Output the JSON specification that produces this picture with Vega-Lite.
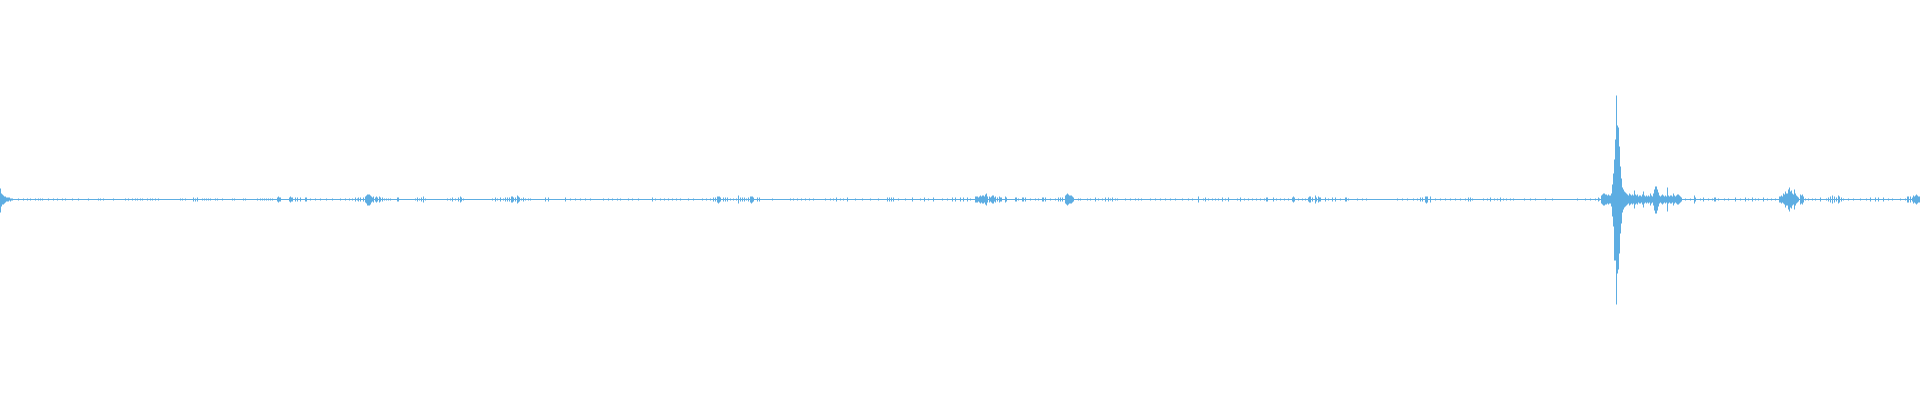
{
  "$schema": "https://vega.github.io/schema/vega-lite/v6.json",
  "width": 1920,
  "height": 400,
  "autosize": {"type": "fit", "contains": "padding"},
  "padding": 0,
  "background": "#ffffff",
  "config": {"view": {"stroke": null}},
  "datasets": {
    "base": [{"x": 0, "x2": 1919, "y": 0}],
    "wave": [
      {"x":0,"lo":-13,"hi":11},{"x":1,"lo":-7,"hi":6},{"x":2,"lo":-5,"hi":5},{"x":3,"lo":-5,"hi":4},{"x":4,"lo":-4,"hi":3},{"x":5,"lo":-3,"hi":3},{"x":6,"lo":-2,"hi":2},{"x":7,"lo":-2,"hi":2},{"x":8,"lo":-2,"hi":2},{"x":9,"lo":-1,"hi":2},{"x":10,"lo":-2,"hi":1},{"x":11,"lo":-1,"hi":1},{"x":12,"lo":-1,"hi":1},
      {"x":18,"lo":-1,"hi":1},{"x":23,"lo":-1,"hi":1},{"x":27,"lo":-1,"hi":1},{"x":30,"lo":-1,"hi":1},{"x":35,"lo":-1,"hi":1},{"x":38,"lo":-1,"hi":1},{"x":40,"lo":-1,"hi":1},{"x":42,"lo":-1,"hi":1},{"x":48,"lo":-1,"hi":1},{"x":53,"lo":-1,"hi":1},{"x":57,"lo":-1,"hi":1},{"x":62,"lo":-1,"hi":1},{"x":65,"lo":-1,"hi":1},{"x":72,"lo":-1,"hi":1},{"x":78,"lo":-1,"hi":1},{"x":88,"lo":-1,"hi":1},{"x":98,"lo":-1,"hi":1},{"x":100,"lo":-1,"hi":1},{"x":103,"lo":-1,"hi":1},{"x":113,"lo":-1,"hi":1},{"x":125,"lo":-1,"hi":1},{"x":128,"lo":-1,"hi":1},{"x":132,"lo":-1,"hi":1},{"x":135,"lo":-1,"hi":1},{"x":137,"lo":-1,"hi":1},{"x":140,"lo":-1,"hi":1},{"x":142,"lo":-1,"hi":1},{"x":147,"lo":-1,"hi":1},{"x":150,"lo":-1,"hi":1},{"x":152,"lo":-1,"hi":1},{"x":155,"lo":-1,"hi":1},{"x":158,"lo":-1,"hi":1},{"x":180,"lo":-1,"hi":1},{"x":182,"lo":-1,"hi":1},{"x":185,"lo":-1,"hi":1},{"x":193,"lo":-2,"hi":2},{"x":195,"lo":-2,"hi":1},{"x":197,"lo":-2,"hi":2},
      {"x":202,"lo":-1,"hi":1},{"x":204,"lo":-1,"hi":1},{"x":206,"lo":-1,"hi":1},{"x":208,"lo":-1,"hi":1},{"x":210,"lo":-1,"hi":1},{"x":215,"lo":-1,"hi":1},{"x":217,"lo":-1,"hi":1},{"x":222,"lo":-1,"hi":1},{"x":232,"lo":-1,"hi":1},{"x":234,"lo":-1,"hi":1},{"x":243,"lo":-1,"hi":1},{"x":245,"lo":-1,"hi":1},{"x":257,"lo":-1,"hi":1},{"x":260,"lo":-1,"hi":1},{"x":262,"lo":-1,"hi":1},{"x":264,"lo":-1,"hi":1},{"x":266,"lo":-1,"hi":1},{"x":268,"lo":-1,"hi":1},{"x":270,"lo":-1,"hi":1},{"x":272,"lo":-1,"hi":1},
      {"x":277,"lo":-2,"hi":2},{"x":278,"lo":-3,"hi":3},{"x":279,"lo":-2,"hi":2},{"x":280,"lo":-2,"hi":2},{"x":289,"lo":-2,"hi":2},{"x":290,"lo":-3,"hi":3},{"x":291,"lo":-2,"hi":2},{"x":292,"lo":-2,"hi":2},{"x":295,"lo":-2,"hi":2},{"x":297,"lo":-2,"hi":2},{"x":300,"lo":-2,"hi":2},{"x":305,"lo":-2,"hi":2},{"x":306,"lo":-2,"hi":2},{"x":310,"lo":-1,"hi":1},{"x":315,"lo":-1,"hi":1},{"x":320,"lo":-1,"hi":1},{"x":326,"lo":-1,"hi":1},{"x":332,"lo":-1,"hi":1},{"x":340,"lo":-1,"hi":1},{"x":345,"lo":-1,"hi":1},{"x":349,"lo":-1,"hi":1},
      {"x":352,"lo":-1,"hi":1},{"x":355,"lo":-2,"hi":2},{"x":357,"lo":-1,"hi":1},{"x":358,"lo":-2,"hi":2},{"x":360,"lo":-2,"hi":2},{"x":363,"lo":-2,"hi":2},{"x":365,"lo":-3,"hi":3},{"x":366,"lo":-4,"hi":4},{"x":367,"lo":-6,"hi":5},{"x":368,"lo":-6,"hi":5},{"x":369,"lo":-6,"hi":5},{"x":370,"lo":-5,"hi":4},{"x":371,"lo":-3,"hi":3},{"x":372,"lo":-2,"hi":2},{"x":373,"lo":-3,"hi":3},{"x":375,"lo":-2,"hi":2},{"x":376,"lo":-3,"hi":3},{"x":377,"lo":-2,"hi":2},{"x":379,"lo":-3,"hi":3},{"x":380,"lo":-2,"hi":2},{"x":382,"lo":-2,"hi":2},{"x":384,"lo":-1,"hi":1},{"x":386,"lo":-1,"hi":1},{"x":388,"lo":-1,"hi":1},{"x":390,"lo":-1,"hi":1},{"x":397,"lo":-2,"hi":2},{"x":398,"lo":-2,"hi":2},
      {"x":415,"lo":-1,"hi":1},{"x":417,"lo":-2,"hi":2},{"x":419,"lo":-1,"hi":1},{"x":421,"lo":-2,"hi":2},{"x":423,"lo":-3,"hi":3},{"x":425,"lo":-1,"hi":1},{"x":447,"lo":-1,"hi":1},{"x":450,"lo":-1,"hi":1},{"x":452,"lo":-2,"hi":2},{"x":455,"lo":-1,"hi":1},{"x":458,"lo":-2,"hi":2},{"x":460,"lo":-3,"hi":3},{"x":461,"lo":-2,"hi":2},{"x":463,"lo":-1,"hi":1},{"x":492,"lo":-1,"hi":1},{"x":495,"lo":-2,"hi":2},{"x":497,"lo":-1,"hi":1},{"x":500,"lo":-2,"hi":2},{"x":503,"lo":-1,"hi":1},{"x":505,"lo":-2,"hi":2},{"x":507,"lo":-2,"hi":2},{"x":509,"lo":-2,"hi":2},{"x":511,"lo":-3,"hi":3},{"x":512,"lo":-3,"hi":3},{"x":513,"lo":-2,"hi":2},{"x":515,"lo":-2,"hi":2},{"x":517,"lo":-4,"hi":4},{"x":518,"lo":-3,"hi":3},{"x":519,"lo":-2,"hi":2},{"x":521,"lo":-1,"hi":1},{"x":523,"lo":-2,"hi":2},{"x":525,"lo":-1,"hi":1},{"x":528,"lo":-1,"hi":1},{"x":530,"lo":-1,"hi":1},{"x":545,"lo":-2,"hi":2},{"x":548,"lo":-2,"hi":2},{"x":565,"lo":-2,"hi":2},{"x":570,"lo":-1,"hi":1},{"x":575,"lo":-1,"hi":1},{"x":580,"lo":-1,"hi":1},{"x":585,"lo":-1,"hi":1},{"x":590,"lo":-1,"hi":1},
      {"x":603,"lo":-1,"hi":1},{"x":608,"lo":-1,"hi":1},{"x":612,"lo":-1,"hi":1},{"x":617,"lo":-1,"hi":1},{"x":620,"lo":-1,"hi":1},{"x":628,"lo":-1,"hi":1},{"x":632,"lo":-1,"hi":1},{"x":638,"lo":-1,"hi":1},{"x":652,"lo":-2,"hi":2},{"x":655,"lo":-1,"hi":1},{"x":660,"lo":-1,"hi":1},{"x":664,"lo":-1,"hi":1},{"x":668,"lo":-1,"hi":1},{"x":672,"lo":-1,"hi":1},{"x":676,"lo":-1,"hi":1},{"x":680,"lo":-1,"hi":1},{"x":688,"lo":-1,"hi":1},{"x":693,"lo":-1,"hi":1},{"x":702,"lo":-1,"hi":1},{"x":706,"lo":-1,"hi":1},{"x":710,"lo":-1,"hi":1},{"x":713,"lo":-2,"hi":2},{"x":715,"lo":-2,"hi":2},{"x":717,"lo":-3,"hi":3},{"x":718,"lo":-4,"hi":3},{"x":719,"lo":-3,"hi":3},{"x":720,"lo":-2,"hi":2},{"x":723,"lo":-2,"hi":2},{"x":725,"lo":-2,"hi":2},{"x":727,"lo":-2,"hi":2},{"x":730,"lo":-1,"hi":1},{"x":733,"lo":-1,"hi":1},{"x":736,"lo":-1,"hi":1},{"x":738,"lo":-4,"hi":4},{"x":740,"lo":-2,"hi":2},{"x":742,"lo":-2,"hi":2},{"x":744,"lo":-2,"hi":2},{"x":746,"lo":-1,"hi":1},{"x":748,"lo":-2,"hi":2},{"x":750,"lo":-3,"hi":3},{"x":751,"lo":-4,"hi":3},{"x":752,"lo":-3,"hi":3},{"x":753,"lo":-2,"hi":2},{"x":757,"lo":-2,"hi":2},{"x":759,"lo":-2,"hi":2},{"x":772,"lo":-1,"hi":1},{"x":790,"lo":-1,"hi":1},{"x":793,"lo":-1,"hi":1},{"x":797,"lo":-1,"hi":1},{"x":801,"lo":-1,"hi":1},{"x":805,"lo":-1,"hi":1},{"x":809,"lo":-1,"hi":1},{"x":813,"lo":-1,"hi":1},{"x":825,"lo":-1,"hi":1},{"x":830,"lo":-1,"hi":1},{"x":833,"lo":-1,"hi":1},{"x":836,"lo":-2,"hi":2},{"x":840,"lo":-1,"hi":1},{"x":843,"lo":-1,"hi":1},{"x":847,"lo":-2,"hi":2},{"x":855,"lo":-1,"hi":1},{"x":862,"lo":-1,"hi":1},{"x":870,"lo":-1,"hi":1},{"x":878,"lo":-1,"hi":1},{"x":887,"lo":-2,"hi":2},{"x":889,"lo":-2,"hi":2},{"x":891,"lo":-2,"hi":2},{"x":893,"lo":-2,"hi":2},{"x":898,"lo":-1,"hi":1},{"x":905,"lo":-1,"hi":1},{"x":912,"lo":-2,"hi":2},{"x":920,"lo":-1,"hi":1},{"x":924,"lo":-2,"hi":2},{"x":928,"lo":-1,"hi":1},{"x":933,"lo":-2,"hi":2},
      {"x":942,"lo":-1,"hi":1},{"x":947,"lo":-1,"hi":1},{"x":952,"lo":-2,"hi":2},{"x":955,"lo":-2,"hi":2},{"x":960,"lo":-2,"hi":2},{"x":963,"lo":-2,"hi":2},{"x":967,"lo":-2,"hi":2},{"x":970,"lo":-1,"hi":1},{"x":975,"lo":-3,"hi":3},{"x":976,"lo":-3,"hi":3},{"x":977,"lo":-3,"hi":3},{"x":978,"lo":-2,"hi":2},{"x":979,"lo":-3,"hi":3},{"x":980,"lo":-4,"hi":4},{"x":981,"lo":-3,"hi":3},{"x":982,"lo":-4,"hi":4},{"x":983,"lo":-4,"hi":4},{"x":984,"lo":-3,"hi":3},{"x":985,"lo":-5,"hi":5},{"x":986,"lo":-6,"hi":6},{"x":987,"lo":-3,"hi":3},{"x":989,"lo":-3,"hi":3},{"x":990,"lo":-2,"hi":2},{"x":991,"lo":-3,"hi":3},{"x":992,"lo":-4,"hi":4},{"x":993,"lo":-4,"hi":4},{"x":994,"lo":-2,"hi":2},{"x":995,"lo":-3,"hi":3},{"x":997,"lo":-2,"hi":2},{"x":999,"lo":-3,"hi":3},{"x":1000,"lo":-2,"hi":2},{"x":1001,"lo":-2,"hi":2},{"x":1005,"lo":-3,"hi":3},{"x":1006,"lo":-2,"hi":2},{"x":1015,"lo":-2,"hi":2},{"x":1016,"lo":-2,"hi":2},{"x":1018,"lo":-1,"hi":1},{"x":1022,"lo":-2,"hi":2},{"x":1023,"lo":-2,"hi":2},{"x":1025,"lo":-2,"hi":2},{"x":1030,"lo":-1,"hi":1},{"x":1035,"lo":-1,"hi":1},{"x":1038,"lo":-1,"hi":1},{"x":1042,"lo":-2,"hi":2},{"x":1043,"lo":-2,"hi":2},{"x":1045,"lo":-2,"hi":2},{"x":1050,"lo":-1,"hi":1},{"x":1055,"lo":-1,"hi":1},{"x":1058,"lo":-2,"hi":2},{"x":1060,"lo":-2,"hi":2},{"x":1062,"lo":-2,"hi":2},{"x":1065,"lo":-4,"hi":4},{"x":1066,"lo":-5,"hi":5},{"x":1067,"lo":-6,"hi":6},{"x":1068,"lo":-5,"hi":5},{"x":1069,"lo":-4,"hi":4},{"x":1070,"lo":-4,"hi":4},{"x":1071,"lo":-4,"hi":4},{"x":1072,"lo":-3,"hi":3},{"x":1073,"lo":-2,"hi":2},{"x":1078,"lo":-1,"hi":1},{"x":1080,"lo":-1,"hi":1},{"x":1087,"lo":-1,"hi":1},{"x":1090,"lo":-1,"hi":1},{"x":1095,"lo":-2,"hi":2},{"x":1098,"lo":-1,"hi":1},{"x":1102,"lo":-1,"hi":1},{"x":1105,"lo":-2,"hi":2},{"x":1108,"lo":-2,"hi":2},{"x":1110,"lo":-1,"hi":1},{"x":1112,"lo":-2,"hi":2},{"x":1115,"lo":-1,"hi":1},{"x":1117,"lo":-1,"hi":1},{"x":1125,"lo":-1,"hi":1},{"x":1130,"lo":-1,"hi":1},{"x":1135,"lo":-1,"hi":1},{"x":1138,"lo":-1,"hi":1},
      {"x":1141,"lo":-1,"hi":1},{"x":1150,"lo":-1,"hi":1},{"x":1155,"lo":-1,"hi":1},{"x":1160,"lo":-1,"hi":1},{"x":1165,"lo":-1,"hi":1},{"x":1170,"lo":-1,"hi":1},{"x":1175,"lo":-1,"hi":1},{"x":1182,"lo":-1,"hi":1},{"x":1188,"lo":-1,"hi":1},{"x":1192,"lo":-1,"hi":1},{"x":1198,"lo":-3,"hi":3},{"x":1203,"lo":-1,"hi":1},{"x":1205,"lo":-2,"hi":2},{"x":1208,"lo":-1,"hi":1},{"x":1212,"lo":-1,"hi":1},{"x":1215,"lo":-1,"hi":1},{"x":1218,"lo":-1,"hi":1},{"x":1222,"lo":-2,"hi":2},{"x":1225,"lo":-1,"hi":1},{"x":1228,"lo":-2,"hi":2},{"x":1237,"lo":-1,"hi":1},{"x":1240,"lo":-2,"hi":2},{"x":1244,"lo":-1,"hi":1},{"x":1248,"lo":-1,"hi":1},{"x":1252,"lo":-1,"hi":1},{"x":1256,"lo":-1,"hi":1},{"x":1260,"lo":-1,"hi":1},{"x":1264,"lo":-1,"hi":1},{"x":1266,"lo":-2,"hi":2},{"x":1267,"lo":-2,"hi":2},{"x":1273,"lo":-2,"hi":2},{"x":1276,"lo":-1,"hi":1},{"x":1280,"lo":-1,"hi":1},{"x":1284,"lo":-1,"hi":1},{"x":1288,"lo":-1,"hi":1},{"x":1292,"lo":-2,"hi":2},{"x":1293,"lo":-3,"hi":3},{"x":1294,"lo":-2,"hi":2},{"x":1298,"lo":-1,"hi":1},{"x":1302,"lo":-1,"hi":1},{"x":1305,"lo":-1,"hi":1},{"x":1308,"lo":-2,"hi":2},{"x":1309,"lo":-3,"hi":3},{"x":1310,"lo":-3,"hi":3},{"x":1312,"lo":-2,"hi":2},{"x":1315,"lo":-4,"hi":4},{"x":1316,"lo":-2,"hi":2},{"x":1318,"lo":-3,"hi":3},{"x":1319,"lo":-2,"hi":2},{"x":1320,"lo":-2,"hi":2},{"x":1325,"lo":-2,"hi":2},{"x":1328,"lo":-1,"hi":1},{"x":1332,"lo":-2,"hi":2},{"x":1335,"lo":-2,"hi":2},{"x":1340,"lo":-1,"hi":1},{"x":1345,"lo":-2,"hi":2},{"x":1346,"lo":-2,"hi":2},{"x":1348,"lo":-1,"hi":1},{"x":1357,"lo":-1,"hi":1},{"x":1362,"lo":-1,"hi":1},{"x":1366,"lo":-1,"hi":1},{"x":1397,"lo":-1,"hi":1},{"x":1402,"lo":-1,"hi":1},{"x":1407,"lo":-1,"hi":1},{"x":1413,"lo":-1,"hi":1},{"x":1417,"lo":-1,"hi":1},{"x":1420,"lo":-2,"hi":2},{"x":1422,"lo":-2,"hi":2},{"x":1425,"lo":-3,"hi":3},{"x":1426,"lo":-4,"hi":3},{"x":1427,"lo":-3,"hi":3},{"x":1430,"lo":-3,"hi":3},{"x":1435,"lo":-1,"hi":1},{"x":1440,"lo":-1,"hi":1},{"x":1445,"lo":-1,"hi":1},{"x":1450,"lo":-1,"hi":1},{"x":1455,"lo":-1,"hi":1},{"x":1460,"lo":-1,"hi":1},{"x":1465,"lo":-1,"hi":1},{"x":1468,"lo":-2,"hi":2},{"x":1470,"lo":-2,"hi":2},{"x":1472,"lo":-1,"hi":1},{"x":1483,"lo":-1,"hi":1},{"x":1487,"lo":-1,"hi":1},{"x":1490,"lo":-2,"hi":2},{"x":1494,"lo":-1,"hi":1},{"x":1497,"lo":-1,"hi":1},{"x":1500,"lo":-2,"hi":2},{"x":1503,"lo":-1,"hi":1},{"x":1506,"lo":-1,"hi":1},{"x":1510,"lo":-1,"hi":1},{"x":1513,"lo":-1,"hi":1},{"x":1524,"lo":-1,"hi":1},{"x":1530,"lo":-1,"hi":1},{"x":1535,"lo":-1,"hi":1},{"x":1545,"lo":-1,"hi":1},{"x":1552,"lo":-1,"hi":1},
      {"x":1577,"lo":-1,"hi":1},{"x":1585,"lo":-1,"hi":1},{"x":1590,"lo":-1,"hi":1},{"x":1595,"lo":-1,"hi":1},{"x":1598,"lo":-2,"hi":2},{"x":1599,"lo":-1,"hi":1},{"x":1601,"lo":-4,"hi":4},{"x":1602,"lo":-5,"hi":5},{"x":1603,"lo":-6,"hi":6},{"x":1604,"lo":-6,"hi":6},{"x":1605,"lo":-5,"hi":5},{"x":1606,"lo":-5,"hi":5},{"x":1607,"lo":-4,"hi":4},{"x":1608,"lo":-5,"hi":5},{"x":1609,"lo":-4,"hi":4},{"x":1610,"lo":-4,"hi":4},{"x":1611,"lo":-7,"hi":6},{"x":1612,"lo":-17,"hi":15},{"x":1613,"lo":-27,"hi":26},{"x":1614,"lo":-61,"hi":40},{"x":1615,"lo":-61,"hi":60},{"x":1616,"lo":-105,"hi":104},{"x":1617,"lo":-74,"hi":74},{"x":1618,"lo":-70,"hi":72},{"x":1619,"lo":-54,"hi":53},{"x":1620,"lo":-34,"hi":33},{"x":1621,"lo":-24,"hi":21},{"x":1622,"lo":-13,"hi":12},{"x":1623,"lo":-10,"hi":10},{"x":1624,"lo":-8,"hi":8},{"x":1625,"lo":-7,"hi":7},{"x":1626,"lo":-6,"hi":6},{"x":1627,"lo":-5,"hi":5},{"x":1628,"lo":-4,"hi":4},{"x":1629,"lo":-6,"hi":6},{"x":1630,"lo":-5,"hi":5},{"x":1631,"lo":-4,"hi":4},{"x":1632,"lo":-5,"hi":5},{"x":1633,"lo":-4,"hi":4},{"x":1634,"lo":-9,"hi":9},{"x":1635,"lo":-5,"hi":5},{"x":1636,"lo":-4,"hi":4},{"x":1637,"lo":-5,"hi":5},{"x":1638,"lo":-3,"hi":3},{"x":1639,"lo":-4,"hi":4},{"x":1640,"lo":-4,"hi":4},{"x":1641,"lo":-3,"hi":3},{"x":1642,"lo":-5,"hi":5},{"x":1643,"lo":-8,"hi":8},{"x":1644,"lo":-4,"hi":4},{"x":1645,"lo":-3,"hi":3},{"x":1646,"lo":-4,"hi":4},{"x":1647,"lo":-3,"hi":3},{"x":1648,"lo":-4,"hi":4},{"x":1649,"lo":-3,"hi":3},{"x":1650,"lo":-6,"hi":6},{"x":1651,"lo":-4,"hi":4},{"x":1652,"lo":-3,"hi":3},{"x":1653,"lo":-6,"hi":6},{"x":1654,"lo":-11,"hi":10},{"x":1655,"lo":-14,"hi":13},{"x":1656,"lo":-14,"hi":13},{"x":1657,"lo":-11,"hi":10},{"x":1658,"lo":-7,"hi":7},{"x":1659,"lo":-4,"hi":4},{"x":1660,"lo":-3,"hi":3},{"x":1661,"lo":-4,"hi":4},{"x":1662,"lo":-5,"hi":5},{"x":1663,"lo":-4,"hi":4},{"x":1664,"lo":-3,"hi":3},{"x":1665,"lo":-4,"hi":4},{"x":1666,"lo":-3,"hi":3},{"x":1667,"lo":-12,"hi":12},{"x":1668,"lo":-4,"hi":4},{"x":1669,"lo":-3,"hi":3},{"x":1670,"lo":-4,"hi":4},{"x":1671,"lo":-4,"hi":4},{"x":1672,"lo":-3,"hi":3},{"x":1673,"lo":-6,"hi":6},{"x":1674,"lo":-4,"hi":4},{"x":1675,"lo":-3,"hi":3},{"x":1676,"lo":-4,"hi":4},{"x":1677,"lo":-5,"hi":5},{"x":1678,"lo":-5,"hi":5},{"x":1679,"lo":-4,"hi":4},{"x":1680,"lo":-3,"hi":3},{"x":1681,"lo":-2,"hi":2},{"x":1685,"lo":-1,"hi":1},{"x":1690,"lo":-1,"hi":1},{"x":1694,"lo":-4,"hi":4},{"x":1695,"lo":-2,"hi":2},{"x":1700,"lo":-1,"hi":1},{"x":1703,"lo":-2,"hi":2},{"x":1708,"lo":-1,"hi":1},{"x":1712,"lo":-1,"hi":1},{"x":1714,"lo":-2,"hi":2},{"x":1715,"lo":-2,"hi":2},{"x":1718,"lo":-1,"hi":1},
      {"x":1724,"lo":-1,"hi":1},{"x":1728,"lo":-1,"hi":1},{"x":1735,"lo":-2,"hi":2},{"x":1740,"lo":-1,"hi":1},{"x":1745,"lo":-2,"hi":2},{"x":1748,"lo":-1,"hi":1},{"x":1752,"lo":-2,"hi":2},{"x":1755,"lo":-1,"hi":1},{"x":1758,"lo":-1,"hi":1},{"x":1763,"lo":-2,"hi":2},{"x":1767,"lo":-1,"hi":1},{"x":1771,"lo":-1,"hi":1},{"x":1775,"lo":-1,"hi":1},{"x":1779,"lo":-3,"hi":3},{"x":1780,"lo":-3,"hi":3},{"x":1781,"lo":-4,"hi":4},{"x":1782,"lo":-3,"hi":3},{"x":1783,"lo":-4,"hi":6},{"x":1784,"lo":-5,"hi":5},{"x":1785,"lo":-8,"hi":8},{"x":1786,"lo":-6,"hi":6},{"x":1787,"lo":-6,"hi":6},{"x":1788,"lo":-10,"hi":10},{"x":1789,"lo":-12,"hi":12},{"x":1790,"lo":-8,"hi":8},{"x":1791,"lo":-9,"hi":9},{"x":1792,"lo":-6,"hi":6},{"x":1793,"lo":-5,"hi":5},{"x":1794,"lo":-10,"hi":10},{"x":1795,"lo":-6,"hi":6},{"x":1796,"lo":-4,"hi":4},{"x":1797,"lo":-3,"hi":3},{"x":1798,"lo":-2,"hi":2},{"x":1800,"lo":-5,"hi":5},{"x":1801,"lo":-4,"hi":4},{"x":1802,"lo":-5,"hi":5},{"x":1803,"lo":-3,"hi":3},{"x":1805,"lo":-1,"hi":1},{"x":1808,"lo":-1,"hi":1},{"x":1812,"lo":-1,"hi":1},{"x":1815,"lo":-1,"hi":1},{"x":1820,"lo":-2,"hi":2},{"x":1826,"lo":-1,"hi":1},{"x":1828,"lo":-2,"hi":2},{"x":1830,"lo":-3,"hi":3},{"x":1832,"lo":-4,"hi":4},{"x":1834,"lo":-3,"hi":3},{"x":1836,"lo":-2,"hi":2},{"x":1838,"lo":-4,"hi":4},{"x":1839,"lo":-3,"hi":3},{"x":1841,"lo":-2,"hi":2},{"x":1843,"lo":-1,"hi":1},{"x":1848,"lo":-1,"hi":1},{"x":1853,"lo":-1,"hi":1},{"x":1860,"lo":-1,"hi":1},{"x":1866,"lo":-1,"hi":1},{"x":1870,"lo":-2,"hi":2},{"x":1875,"lo":-2,"hi":2},{"x":1878,"lo":-2,"hi":2},{"x":1883,"lo":-2,"hi":2},{"x":1888,"lo":-1,"hi":1},{"x":1892,"lo":-1,"hi":1},{"x":1900,"lo":-1,"hi":1},{"x":1905,"lo":-1,"hi":1},{"x":1907,"lo":-3,"hi":3},{"x":1908,"lo":-3,"hi":3},{"x":1910,"lo":-3,"hi":3},{"x":1912,"lo":-2,"hi":2},{"x":1913,"lo":-4,"hi":4},{"x":1914,"lo":-3,"hi":3},{"x":1915,"lo":-4,"hi":4},{"x":1916,"lo":-5,"hi":5},{"x":1917,"lo":-4,"hi":4},{"x":1918,"lo":-3,"hi":3},{"x":1919,"lo":-3,"hi":3}
    ]
  },
  "layer": [
    {
      "data": {"name": "base"},
      "mark": {"type": "rule", "color": "#5dade2", "strokeWidth": 1},
      "encoding": {
        "x": {"field": "x", "type": "quantitative", "scale": {"domain": [-0.5, 1919.5], "nice": false, "zero": false}, "axis": null},
        "x2": {"field": "x2"},
        "y": {"field": "y", "type": "quantitative", "scale": {"domain": [-200.5, 199.5], "nice": false, "zero": false}, "axis": null}
      }
    },
    {
      "data": {"name": "wave"},
      "mark": {"type": "rule", "color": "#5dade2", "strokeWidth": 1},
      "encoding": {
        "x": {"field": "x", "type": "quantitative", "scale": {"domain": [-0.5, 1919.5], "nice": false, "zero": false}, "axis": null},
        "y": {"field": "hi", "type": "quantitative", "scale": {"domain": [-200.5, 199.5], "nice": false, "zero": false}, "axis": null},
        "y2": {"field": "lo"}
      }
    }
  ]
}
